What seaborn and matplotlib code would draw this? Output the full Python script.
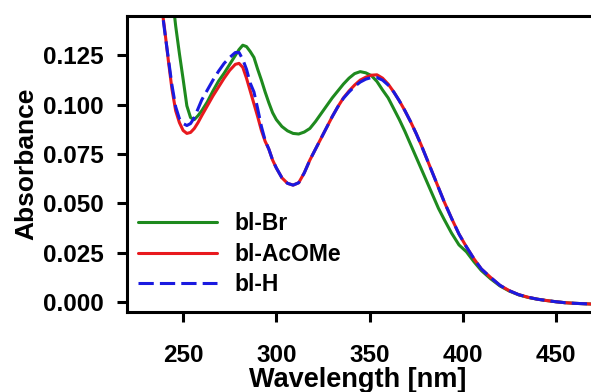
import numpy as np
import pandas as pd
import matplotlib
matplotlib.use("Agg")
import matplotlib.pyplot as plt
import seaborn as sns

# ---------------- data ----------------
wavelength = [236, 238, 240, 242, 244, 246, 248, 250, 252, 254, 256, 258, 260,
              263, 266, 269, 272, 275, 278, 280, 282, 284, 286, 288, 290, 292,
              294, 296, 298, 300, 303, 306, 309, 312, 315, 318, 321, 324, 327,
              330, 333, 336, 339, 342, 345, 348, 351, 354, 357, 360, 363, 366,
              369, 372, 375, 378, 381, 384, 387, 390, 394, 398, 402, 406, 410,
              415, 420, 425, 430, 435, 440, 445, 450, 455, 460, 465, 470]

bl_Br = [0.200, 0.192, 0.185, 0.171, 0.157, 0.140, 0.126, 0.113, 0.0995, 0.0935,
         0.0925, 0.0945, 0.0970, 0.1015, 0.1070, 0.1120, 0.1160, 0.1205, 0.1250,
         0.1280, 0.1302, 0.1295, 0.1270, 0.1240, 0.1180, 0.1125, 0.1065, 0.1010,
         0.0960, 0.0925, 0.0890, 0.0868, 0.0855, 0.0852, 0.0862, 0.0880, 0.0915,
         0.0955, 0.0995, 0.1035, 0.1070, 0.1105, 0.1135, 0.1158, 0.1168, 0.1162,
         0.1148, 0.1118, 0.1075, 0.1035, 0.0980, 0.0925, 0.0865, 0.0800, 0.0735,
         0.0670, 0.0605, 0.0540, 0.0475, 0.0420, 0.0350, 0.0290, 0.0255, 0.0205,
         0.0160, 0.0118, 0.0082, 0.0056, 0.0037, 0.0024, 0.0015, 0.0008, 0.0002,
         -0.0003, -0.0006, -0.0008, -0.0010]

bl_AcOMe = [0.169, 0.153, 0.139, 0.123, 0.108, 0.097, 0.091, 0.087, 0.0855, 0.0860,
            0.0880, 0.0910, 0.0945, 0.0995, 0.1045, 0.1090, 0.1135, 0.1175, 0.1205,
            0.1210, 0.1190, 0.1135, 0.1070, 0.1005, 0.0940, 0.0870, 0.0815, 0.0775,
            0.0720, 0.0680, 0.0630, 0.0602, 0.0593, 0.0605, 0.0655, 0.0720, 0.0775,
            0.0830, 0.0885, 0.0940, 0.0990, 0.1035, 0.1070, 0.1100, 0.1125, 0.1140,
            0.1150, 0.1152, 0.1135, 0.1105, 0.1065, 0.1020, 0.0970, 0.0915, 0.0855,
            0.0790, 0.0720, 0.0650, 0.0580, 0.0510, 0.0425, 0.0345, 0.0280, 0.0220,
            0.0168, 0.0125, 0.0085, 0.0058, 0.0038, 0.0025, 0.0015, 0.0008, 0.0002,
            -0.0003, -0.0006, -0.0008, -0.0010]

bl_H = [0.170, 0.153, 0.138, 0.124, 0.110, 0.099, 0.093, 0.0905, 0.0895, 0.0905,
        0.0935, 0.0980, 0.1025, 0.1075, 0.1125, 0.1170, 0.1210, 0.1240, 0.1265,
        0.1265, 0.1230, 0.1180, 0.1110, 0.1065, 0.0980, 0.0890, 0.0820, 0.0775,
        0.0720, 0.0680, 0.0630, 0.0602, 0.0593, 0.0605, 0.0655, 0.0720, 0.0775,
        0.0830, 0.0885, 0.0940, 0.0990, 0.1033, 0.1065, 0.1093, 0.1115, 0.1130,
        0.1138, 0.1138, 0.1125, 0.1100, 0.1065, 0.1020, 0.0970, 0.0915, 0.0855,
        0.0790, 0.0720, 0.0650, 0.0580, 0.0510, 0.0425, 0.0345, 0.0280, 0.0220,
        0.0168, 0.0125, 0.0085, 0.0058, 0.0038, 0.0025, 0.0015, 0.0008, 0.0002,
        -0.0003, -0.0006, -0.0008, -0.0010]

series_names = ["bl-Br", "bl-AcOMe", "bl-H"]
x_ticks = [250, 300, 350, 400, 450]
y_ticks = [0.000, 0.025, 0.050, 0.075, 0.100, 0.125]
x_label = "Wavelength [nm]"
y_label = "Absorbance"

# ---------------- style ----------------
sns.set_style("ticks")
plt.rcParams["font.family"] = ["Liberation Sans", "DejaVu Sans"]
plt.rcParams["font.weight"] = "bold"
plt.rcParams["axes.labelweight"] = "bold"
plt.rcParams["text.color"] = "black"
plt.rcParams["axes.labelcolor"] = "black"
plt.rcParams["xtick.color"] = "black"
plt.rcParams["ytick.color"] = "black"

fig = plt.figure(figsize=(5.91, 3.92), dpi=100)
ax = fig.add_axes([127.2 / 591, 1 - 312 / 392, (593.2 - 127.2) / 591, (312 - 16) / 392])

colors = ["#1e8a1e", "#e8191e", "#1a1ae0"]
for name, vals, col in zip(series_names, [bl_Br, bl_AcOMe, bl_H], colors):
    df = pd.DataFrame({"wl": wavelength, "A": vals})
    sns.lineplot(data=df, x="wl", y="A", color=col, lw=2.2, label=name, ax=ax)

ax.lines[2].set_dashes([5, 2])

ax.set_xlim(220, 470)
ax.set_ylim(-0.005, 0.145)
ax.set_xticks(x_ticks)
ax.set_yticks(y_ticks)
ax.set_yticklabels([f"{v:.3f}" for v in y_ticks])
ax.set_xlabel(x_label, fontsize=19.5, fontweight="bold")
ax.set_ylabel(y_label, fontsize=19, fontweight="bold")
ax.xaxis.set_label_coords(0.495, -0.187)
ax.yaxis.set_label_coords(-0.19, 0.5)

for sp in ["left", "bottom", "top"]:
    ax.spines[sp].set_linewidth(2.2)
    ax.spines[sp].set_color("black")
ax.spines["right"].set_visible(False)
ax.tick_params(axis="both", direction="out", length=7.2, width=2.2, labelsize=17.5,
               colors="black")
ax.tick_params(axis="y", pad=10)
ax.tick_params(axis="x", pad=16)
for lab in ax.get_xticklabels() + ax.get_yticklabels():
    lab.set_fontweight("bold")

leg = ax.legend(loc="lower left", bbox_to_anchor=(0.008, 0.03), frameon=False,
                fontsize=16.5, handlelength=3.45, handletextpad=0.75,
                labelspacing=0.33, borderpad=0.3, borderaxespad=0.0)
for t in leg.get_texts():
    t.set_fontweight("bold")
    t.set_color("black")

fig.savefig("out.png", dpi=100)
